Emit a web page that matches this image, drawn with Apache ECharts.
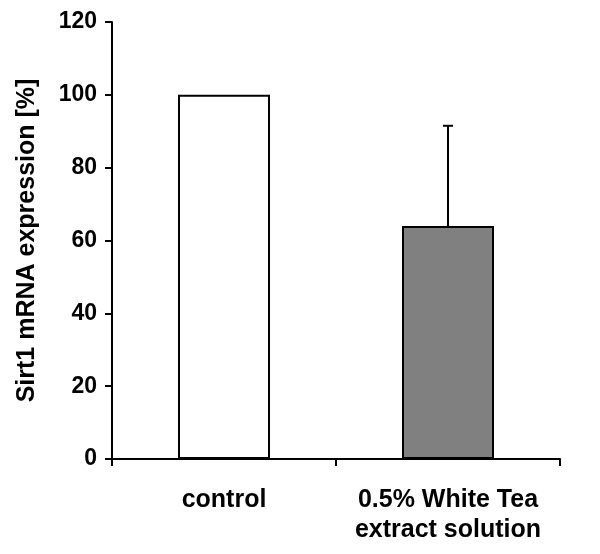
<!DOCTYPE html>
<html>
<head>
    <meta charset="utf-8">
    <title>Sirt1 mRNA expression</title>
    <script src="https://cdn.jsdelivr.net/npm/echarts@6/dist/echarts.min.js"></script>
    <style type="text/css">
        html, body { margin: 0; padding: 0; background: #fff; }
        #main { width: 600px; height: 554px; }
    </style>
</head>
<body>
    <div id="main"></div>
    <script type="text/javascript">
        var groups = ['control', '0.5% White Tea\nextract solution'];
        var expression = [100, 64];
        var errorUp = [0, 27.5];
        var barColors = ['#ffffff', '#808080'];
        var yTicks = { min: 0, max: 120, interval: 20 };

        var font = 'Liberation Sans, Arial, sans-serif';
        var chart = echarts.init(document.getElementById('main'));

        var errData = expression.map(function (v, i) {
            return [i, v, v + errorUp[i]];
        });

        var option = {
            animation: false,
            backgroundColor: '#ffffff',
            grid: { left: 112, right: 40, top: 22, bottom: 95 },
            xAxis: {
                type: 'category',
                data: groups,
                boundaryGap: true,
                axisLine: { lineStyle: { color: '#000', width: 2 } },
                axisTick: { show: true, length: 7, lineStyle: { color: '#000', width: 2 } },
                axisLabel: {
                    interval: 0,
                    hideOverlap: false,
                    color: '#000', fontFamily: font, fontWeight: 'bold',
                    fontSize: 25, lineHeight: 30, margin: 26
                }
            },
            yAxis: {
                type: 'value',
                min: yTicks.min, max: yTicks.max, interval: yTicks.interval,
                name: 'Sirt1 mRNA expression [%]',
                nameLocation: 'middle',
                nameGap: 72,
                nameTextStyle: { color: '#000', fontFamily: font, fontWeight: 'bold', fontSize: 25 },
                axisLine: { show: true, lineStyle: { color: '#000', width: 2 } },
                axisTick: { show: true, length: 7, lineStyle: { color: '#000', width: 2 } },
                splitLine: { show: false },
                axisLabel: {
                    color: '#000', fontFamily: font, fontWeight: 'bold',
                    fontSize: 23, margin: 15
                }
            },
            series: [
                {
                    type: 'bar',
                    barWidth: 92,
                    data: expression.map(function (v, i) {
                        return { value: v, itemStyle: { color: barColors[i] } };
                    }),
                    itemStyle: { borderColor: '#000', borderWidth: 2 },
                    z: 2
                },
                {
                    type: 'custom',
                    data: errData,
                    z: 3,
                    renderItem: function (params, api) {
                        if (api.value(2) <= api.value(1)) return;
                        var lo = api.coord([api.value(0), api.value(1)]);
                        var hi = api.coord([api.value(0), api.value(2)]);
                        var half = 5;
                        var st = { stroke: '#000', lineWidth: 2 };
                        return {
                            type: 'group',
                            children: [
                                { type: 'line', shape: { x1: lo[0], y1: lo[1], x2: hi[0], y2: hi[1] }, style: st },
                                { type: 'line', shape: { x1: hi[0] - half, y1: hi[1], x2: hi[0] + half, y2: hi[1] }, style: st }
                            ]
                        };
                    }
                }
            ]
        };
        chart.setOption(option);
    </script>
</body>
</html>
